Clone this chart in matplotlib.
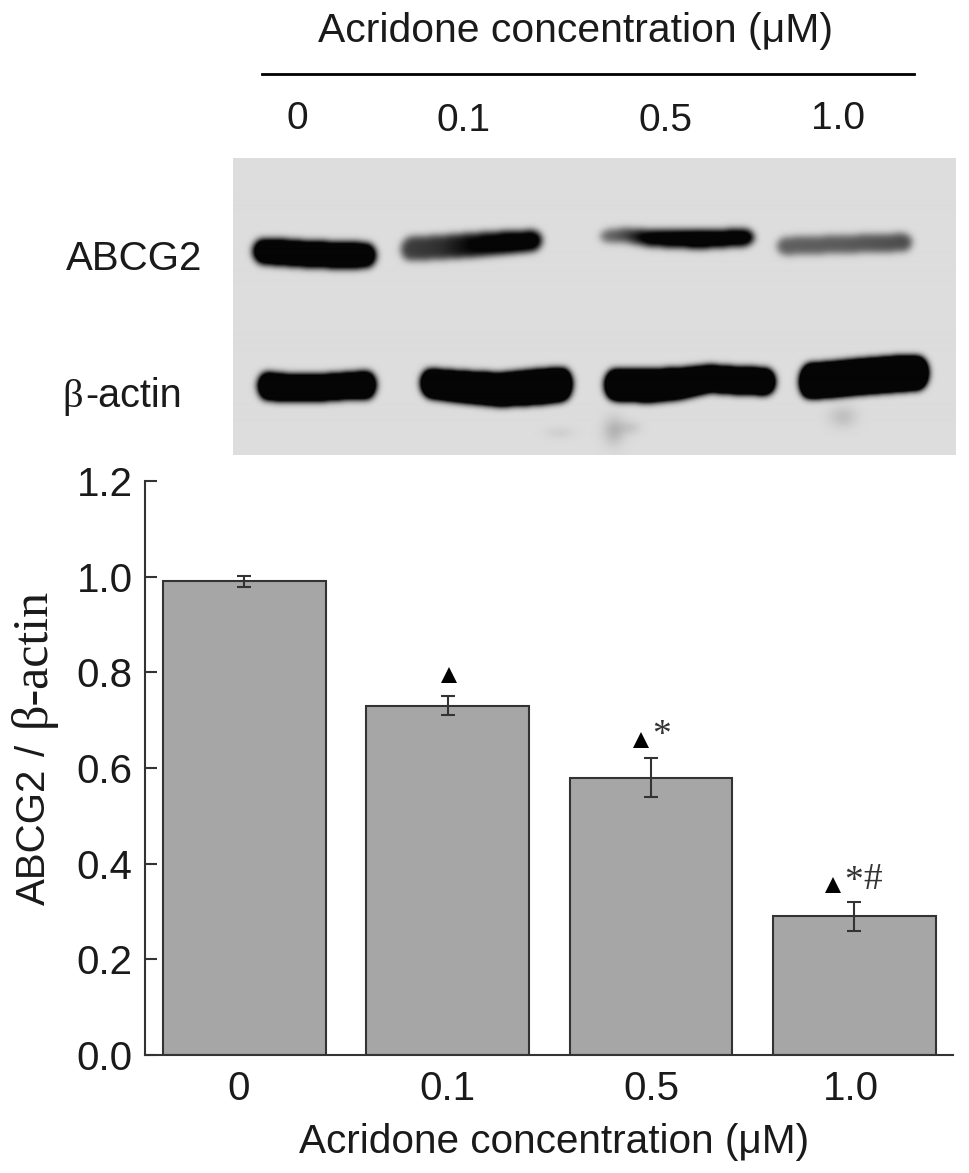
import numpy as np
import matplotlib
matplotlib.use("Agg")
import matplotlib.pyplot as plt

W, H = 969, 1173
SANS = "Liberation Sans"
SERIF = "Liberation Serif"

categories = ["0", "0.1", "0.5", "1.0"]
ratio_values = [0.99, 0.73, 0.58, 0.29]
ratio_errors = [0.012, 0.02, 0.04, 0.03]
y_ticks = [0.0, 0.2, 0.4, 0.6, 0.8, 1.0, 1.2]
lane_labels = ["0", "0.1", "0.5", "1.0"]

# blot bands: (x px list, y px list, half thickness list, darkness list)
bands = [
    ([253, 280, 310, 345, 376], [252, 253, 255, 256, 256], [12, 13, 13, 13, 12], [1.5, 1.5, 1.5, 1.5, 1.5]),
    ([401, 440, 470, 510, 542], [250, 248, 246, 243, 241], [12, 12, 12, 11, 10], [0.72, 0.8, 1.0, 1.2, 1.2]),
    ([600, 625, 650, 700, 754], [237, 236, 239, 240, 238], [6, 7, 8, 9, 8], [0.5, 0.7, 1.2, 1.35, 1.25]),
    ([777, 840, 912], [247, 245, 243], [9, 9, 9], [0.58, 0.6, 0.68]),
    ([258, 290, 320, 350, 376], [386, 388, 388, 386, 385], [14, 13, 13, 13, 14], [1.8, 1.8, 1.8, 1.8, 1.8]),
    ([421, 460, 500, 540, 572], [383, 387, 390, 387, 384], [14, 15, 16, 17, 16], [2, 2, 2, 2, 2]),
    ([605, 650, 680, 710, 740, 775], [385, 386, 384, 379, 381, 382], [15, 16, 15, 13, 13, 13], [2, 2, 2, 2, 2, 2]),
    ([800, 830, 860, 900, 928], [382, 380, 377, 374, 373], [17, 17, 17, 17, 16], [2.2, 2.2, 2.2, 2.2, 2.2]),
]
smudges = [(614, 431, 11, 14, 0.18), (630, 428, 11, 7, 0.09), (560, 433, 14, 6, 0.06),
           (843, 417, 14, 11, 0.13)]

fig = plt.figure(figsize=(W / 100, H / 100), dpi=100, facecolor="white")


def px_text(x, y, s, size=29, family=SANS, ha="center", va="center", **kw):
    return fig.text(x / W, 1 - y / H, s, fontsize=size, family=family, ha=ha, va=va,
                    color="#1a1a1a", **kw)


def blur(img, sigma):
    r = int(3 * sigma)
    k = np.exp(-0.5 * (np.arange(-r, r + 1) / sigma) ** 2)
    k /= k.sum()
    pad = np.pad(img, r, mode="edge")
    pad = np.apply_along_axis(lambda v: np.convolve(v, k, mode="same"), 0, pad)
    pad = np.apply_along_axis(lambda v: np.convolve(v, k, mode="same"), 1, pad)
    return pad[r:-r, r:-r]


# ---- blot
bx0, bx1, by0, by1 = 233, 956, 158, 455
xx, yy = np.meshgrid(np.arange(bx0, bx1) + 0.5, np.arange(by0, by1) + 0.5)
ink = np.zeros_like(xx, dtype=float)
for bxs, bys, bhs, bds in bands:
    xc = xx[0]
    yc = np.interp(xc, bxs, bys)
    hc = np.interp(xc, bxs, bhs)
    dc = np.interp(xc, bxs, bds)
    # band ends taper so the lanes finish rounded
    taper = np.sqrt(np.clip(1 - (np.clip(bxs[0] + 10 - xc, 0, None) / 10) ** 2, 0, 1)
                    * np.clip(1 - (np.clip(xc - bxs[-1] + 10, 0, None) / 10) ** 2, 0, 1))
    inside = (np.abs(yy - yc[None, :]) < (hc * taper)[None, :]) & (taper > 0)[None, :]
    ink = np.maximum(ink, inside * dc[None, :])
ink = blur(ink, 3.5)
for sx, sy, sw, sh, sd in smudges:
    ink += sd * np.exp(-((xx - sx) / sw) ** 2 - ((yy - sy) / sh) ** 2)
grey = 0.845 * (1 - np.clip(ink, 0, 1)) + 0.02
ax_blot = fig.add_axes([bx0 / W, 1 - by1 / H, (bx1 - bx0) / W, (by1 - by0) / H])
ax_blot.imshow(grey, cmap="gray", vmin=0, vmax=1, aspect="auto", interpolation="bilinear")
ax_blot.axis("off")

# ---- header
px_text(576, 31, "Acridone concentration (μM)", size=29.4)
fig.add_artist(plt.Line2D([262 / W, 914 / W], [1 - 74 / H, 1 - 74 / H], color="black", lw=2))
for lx, ly, lab in zip([297, 463, 665, 838], [119, 121, 121, 119], lane_labels):
    px_text(lx, ly, lab, size=28)
px_text(134, 259, "ABCG2", size=29)
px_text(62, 398, "β", size=29, family=SERIF, ha="left")
px_text(85, 396, "-actin", size=28.5, ha="left")

# ---- bar chart
ax = fig.add_axes([145 / W, 1 - 1055 / H, (953 - 145) / W, (1055 - 481) / H])
xpos = np.arange(len(categories))
ax.bar(xpos, ratio_values, width=0.8, color="#a6a6a6", edgecolor="#333333", linewidth=1.5,
       yerr=ratio_errors, ecolor="#333333", error_kw=dict(elinewidth=1.5, capsize=5, capthick=1.5))
ax.set_xlim(-0.489, 3.485)
ax.set_ylim(0, 1.2)
ax.set_yticks(y_ticks)
ax.set_yticklabels([f"{t:.1f}" for t in y_ticks], fontsize=29, family=SANS, color="#1a1a1a")
ax.set_xticks(xpos + np.array([-0.027, 0, 0, -0.015]))
ax.set_xticklabels(categories, fontsize=29, family=SANS, color="#1a1a1a")
ax.tick_params(axis="y", direction="in", length=8.5, width=1.5, color="#333333", pad=9)
ax.tick_params(axis="x", length=0, pad=11)
for side in ("top", "right"):
    ax.spines[side].set_visible(False)
for side in ("left", "bottom"):
    ax.spines[side].set_linewidth(1.5)
    ax.spines[side].set_color("#333333")
ax.patch.set_alpha(0)

# significance marks
tri_x = [1.006, 1.95, 2.895]
tri_y = [0.794, 0.658, 0.355]
ax.plot(tri_x, tri_y, ls="none", marker="^", ms=12, color="black", mew=0)
ax.text(2.053, 0.667, "*", fontsize=27, family=SERIF, ha="center", va="center", color="#333333")
ax.text(2.998, 0.362, "*", fontsize=27, family=SERIF, ha="center", va="center", color="#333333")
ax.text(3.09, 0.366, "#", fontsize=27, family=SERIF, ha="center", va="center", color="#333333")

# axis titles
px_text(554, 1142, "Acridone concentration (μM)", size=29.2)
rot = dict(rotation=90, rotation_mode="anchor", ha="left", va="baseline")
px_text(45, 905, "ABCG2", size=29, **rot)
px_text(45, 756, "/", size=29, **rot)
px_text(45, 727, "β-actin", size=36, family=SERIF, **rot)

fig.savefig("out.png", dpi=100, facecolor="white")
